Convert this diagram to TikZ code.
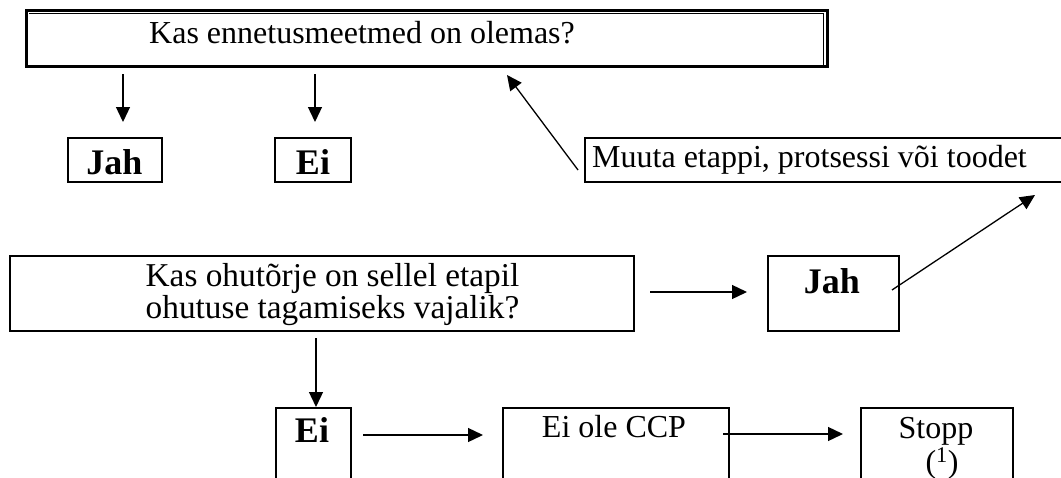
\documentclass[tikz,border=0pt]{standalone}
\usepackage{fontspec}
\setmainfont{Liberation Serif}
\usetikzlibrary{arrows.meta}
\tikzset{
  box/.style={draw, line width=2pt, rectangle, inner sep=0pt},
  txt/.style={inner sep=0pt, anchor=base, font=\fontsize{32}{34}\selectfont},
  btxt/.style={inner sep=0pt, anchor=base, font=\fontsize{36}{40}\selectfont\bfseries},
  arr/.style={line width=1.3pt, -{Triangle[length=15pt,width=14pt]}},
}
\begin{document}
\begin{tikzpicture}[x=1pt,y=-1pt]
\useasboundingbox (0,0) rectangle (1061,477);
% top question box (thick-thin frame)
\node[box, line width=3pt, minimum width=800.5pt, minimum height=56.5pt] (q1) at (426.75,38.25) {};
\draw[line width=1pt] (29,13.5) -- (823.5,13.5) -- (823.5,65);
\node[txt, anchor=base west] (q1t) at (149,43) {Kas ennetusmeetmed on olemas?};
% first answers
\node[box, minimum width=94pt, minimum height=44pt] (j1) at (114.5,159.5) {};
\node[btxt] (j1t) at (114.5,174) {Jah};
\node[box, minimum width=76pt, minimum height=44pt] (e1) at (313,159.5) {};
\node[btxt] (e1t) at (313,174) {Ei};
% modify box
\node[box, minimum width=485pt, minimum height=44.5pt] (m) at (827.5,159.75) {};
\node[txt, anchor=base west] (mt) at (592,167) {Muuta etappi, protsessi või toodet};
% second question
\node[box, minimum width=623.5pt, minimum height=74.5pt] (q2) at (321.75,293.5) {};
\node[txt, font=\fontsize{33.3}{35}\selectfont] (q2a) at (332.5,286) {Kas ohutõrje on sellel etapil};
\node[txt, font=\fontsize{33.3}{35}\selectfont] (q2b) at (332.5,318) {ohutuse tagamiseks vajalik?};
\node[box, minimum width=131pt, minimum height=74.5pt] (j2) at (833,293.5) {};
\node[btxt] (j2t) at (832,293) {Jah};
% bottom row
\node[box, minimum width=75pt, minimum height=92.5pt] (e2) at (313,453.75) {};
\node[btxt] (e2t) at (312,442) {Ei};
\node[box, minimum width=226pt, minimum height=92.5pt] (ccp) at (615.5,453.75) {};
\node[txt] (ccpt) at (614,437) {Ei ole CCP};
\node[box, minimum width=152pt, minimum height=92.5pt] (st) at (936.5,453.75) {};
\node[txt] (stt) at (936,438) {Stopp};
\node[txt] (stn) at (942,472) {(\textsuperscript{1})};
% connector end points
\coordinate (a1s) at (123,74);  \coordinate (a1e) at (123,122);
\coordinate (a2s) at (315,74);  \coordinate (a2e) at (315,122);
\coordinate (a3s) at (578,170); \coordinate (a3e) at (507,75);
\coordinate (a4s) at (650,292); \coordinate (a4e) at (747,292);
\coordinate (a5s) at (892,290); \coordinate (a5e) at (1035,195);
\coordinate (a6s) at (316,338); \coordinate (a6e) at (316,407);
\coordinate (a7s) at (363,435); \coordinate (a7e) at (483,435);
\coordinate (a8s) at (723,434); \coordinate (a8e) at (843,434);
\draw[arr] (a1s) -- (a1e);
\draw[arr] (a2s) -- (a2e);
\draw[arr] (a3s) -- (a3e);
\draw[arr] (a4s) -- (a4e);
\draw[arr] (a5s) -- (a5e);
\draw[arr] (a6s) -- (a6e);
\draw[arr] (a7s) -- (a7e);
\draw[arr] (a8s) -- (a8e);
\end{tikzpicture}
\end{document}
